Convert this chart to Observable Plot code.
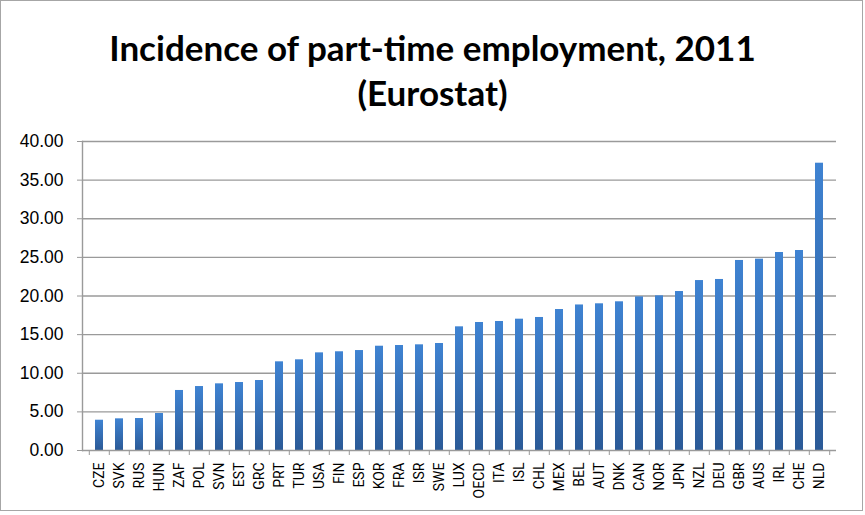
<!DOCTYPE html>
<html>
<head>
<meta charset="utf-8">
<script src="https://cdn.jsdelivr.net/npm/d3@7"></script>
<script src="https://cdn.jsdelivr.net/npm/@observablehq/plot@0.6"></script>
<style>
  html, body { margin: 0; padding: 0; background: #fff; }
  #wrap { position: relative; width: 865px; height: 515px; overflow: hidden; background: #fff; }
  #frame { position: absolute; left: 0; top: 0; width: 861px; height: 509px; border: 1.5px solid #a6a6a6; }
  #title { position: absolute; left: 0; top: 25px; width: 865px; text-align: center;
           font-family: Lato, "Open Sans", sans-serif; font-weight: bold; font-size: 35px; line-height: 45px; color: #000; }
  #chart { position: absolute; left: 0; top: 120px; }
</style>
</head>
<body>
<div id="wrap">
  <div id="frame"></div>
  <div id="title">Incidence of part-time employment, 2011<br>(Eurostat)</div>
  <div id="chart"></div>
</div>
<script>
const countries = ["CZE","SVK","RUS","HUN","ZAF","POL","SVN","EST","GRC","PRT","TUR","USA","FIN","ESP","KOR","FRA","ISR","SWE","LUX","OECD","ITA","ISL","CHL","MEX","BEL","AUT","DNK","CAN","NOR","JPN","NZL","DEU","GBR","AUS","IRL","CHE","NLD"];
const values = [3.92,4.10,4.14,4.79,7.77,8.28,8.63,8.80,9.06,11.48,11.74,12.64,12.78,12.94,13.50,13.59,13.68,13.85,16.01,16.57,16.70,17.00,17.22,18.25,18.84,18.99,19.25,19.89,20.02,20.58,22.00,22.14,24.60,24.77,25.63,25.89,37.19];
const yTicks = [0,5,10,15,20,25,30,35,40];

const data = countries.map((c, i) => ({country: c, value: values[i]}));

const W = 865, H = 395;
const mL = 82, mR = 29;
const step = (W - mL - mR) / countries.length;

const plot = Plot.plot({
  width: W,
  height: H,
  marginTop: 21,
  marginBottom: 65,
  marginLeft: mL,
  marginRight: mR,
  style: {background: "transparent", fontFamily: "'Liberation Sans', Arial, sans-serif", color: "#000"},
  x: {domain: countries, paddingInner: 0.6, paddingOuter: 0.3, axis: null, label: null},
  y: {domain: [0, 40], axis: null, label: null},
  marks: [
    Plot.gridY(yTicks.filter(d => d > 0), {stroke: "#9a9a9a", strokeOpacity: 1, strokeWidth: 1.4}),
    Plot.barY(data, {x: "country", y: "value", fill: "url(#barGrad)"}),
    Plot.ruleY([0], {stroke: "#9a9a9a", strokeWidth: 1.4}),
    Plot.frame({anchor: "left", stroke: "#9a9a9a", strokeWidth: 1.4}),
    Plot.axisY({ticks: yTicks, tickFormat: d => d.toFixed(2), tickSize: 5, tickPadding: 14, label: null,
                stroke: "#9a9a9a", fill: "#000", fontSize: 17.5, fontFamily: "'Liberation Sans', Arial, sans-serif"}),
    Plot.axisX({tickSize: 5, dx: -step / 2, text: null, label: null, stroke: "#9a9a9a"}),
    Plot.axisX({ticks: [countries[countries.length - 1]], tickSize: 5, dx: step / 2, text: null, label: null, stroke: "#9a9a9a"}),
    Plot.axisX({tickSize: 0, tickPadding: 12, tickRotate: -90, fill: "#000", label: null,
                fontSize: 14, fontFamily: "Roboto, 'Liberation Sans', Arial, sans-serif"})
  ]
});

const defs = document.createElementNS("http://www.w3.org/2000/svg", "defs");
defs.innerHTML = `<linearGradient id="barGrad" x1="0" y1="0" x2="0" y2="1">
  <stop offset="0" stop-color="#3f83d2"/>
  <stop offset="1" stop-color="#2b5a97"/>
</linearGradient>`;
plot.insertBefore(defs, plot.firstChild);

document.getElementById("chart").appendChild(plot);
</script>
</body>
</html>
